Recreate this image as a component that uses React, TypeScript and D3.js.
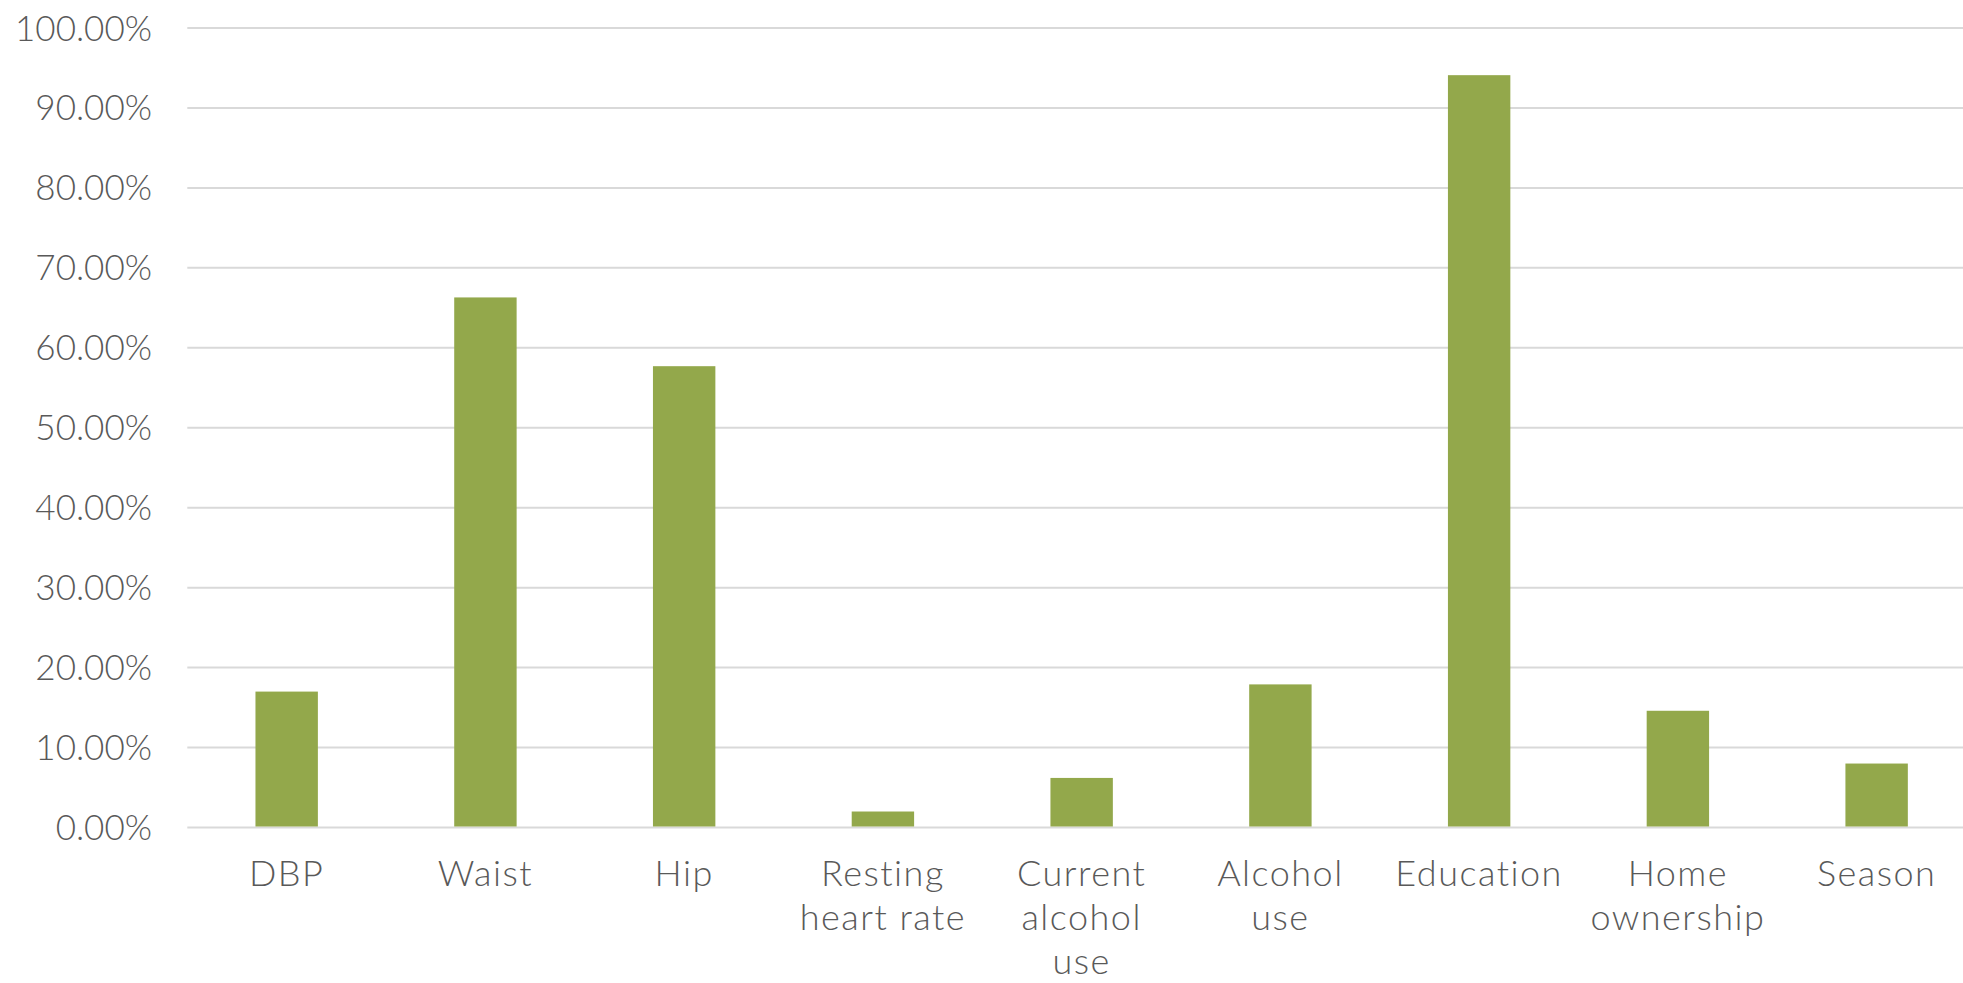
import React from "react";
import * as d3 from "d3";

const categories = [
  "DBP",
  "Waist",
  "Hip",
  "Resting\nheart rate",
  "Current\nalcohol\nuse",
  "Alcohol\nuse",
  "Education",
  "Home\nownership",
  "Season",
];
const values = [17.0, 66.3, 57.7, 2.0, 6.2, 17.9, 94.1, 14.6, 8.0];
const yTicks = [0, 10, 20, 30, 40, 50, 60, 70, 80, 90, 100];

const W = 1963;
const H = 983;
const plotLeft = 187.3;
const plotRight = 1976;
const plotTop = 28;
const plotBottom = 827.5;
const FONT = "Lato, 'Open Sans', sans-serif";
const TEXT = "#595959";

export default function App() {
  const x = d3
    .scaleBand<string>()
    .domain(categories)
    .range([plotLeft, plotRight])
    .paddingInner(0.686)
    .paddingOuter(0.343);
  const y = d3.scaleLinear().domain([0, 100]).range([plotBottom, plotTop]);

  return (
    <svg
      width={W}
      height={H}
      style={{ position: "absolute", left: 0, top: 0, background: "#fff" }}
    >
      <rect x={0} y={0} width={W} height={H} fill="#fff" />
      {yTicks.map((t) => (
        <g key={t}>
          <line
            x1={plotLeft}
            x2={W}
            y1={y(t)}
            y2={y(t)}
            stroke="#d9d9d9"
            strokeWidth={2}
          />
          <text
            x={152}
            y={y(t) + 12.5}
            textAnchor="end"
            fontFamily={FONT}
            fontSize={35}
            fontWeight={300}
            fill={TEXT}
          >
            {t.toFixed(2) + "%"}
          </text>
        </g>
      ))}
      {categories.map((c, i) => (
        <rect
          key={c}
          x={x(c)}
          y={y(values[i])}
          width={x.bandwidth()}
          height={y(0) - y(values[i]) - 1}
          fill="#93a84b"
        />
      ))}
      {categories.map((c) => {
        const cx = (x(c) as number) + x.bandwidth() / 2;
        return (
          <text
            key={c}
            textAnchor="middle"
            fontFamily={FONT}
            fontSize={36}
            fontWeight={300}
            letterSpacing={1.5}
            fill={TEXT}
          >
            {c.split("\n").map((ln, j) => (
              <tspan key={j} x={cx} y={886 + j * 44}>
                {ln}
              </tspan>
            ))}
          </text>
        );
      })}
    </svg>
  );
}
